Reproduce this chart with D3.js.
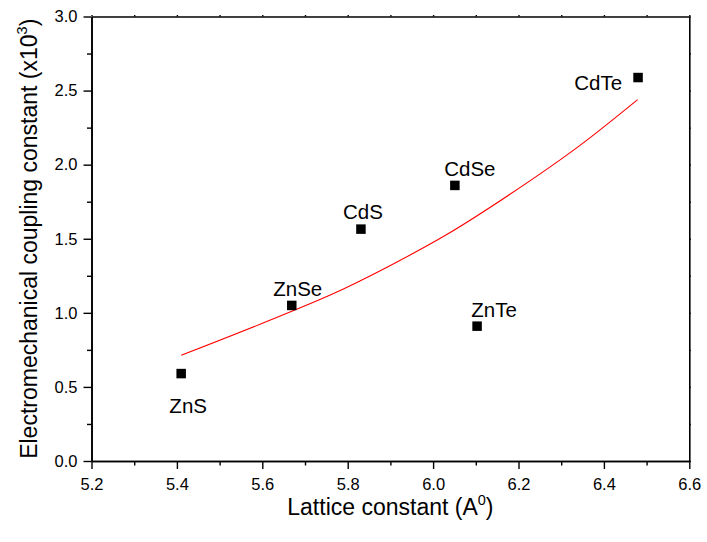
<!DOCTYPE html>
<html>
<head>
<meta charset="utf-8">
<script src="https://cdn.jsdelivr.net/npm/d3@7"></script>
<style>
  body { margin: 0; background: #fff; }
  svg { display: block; font-family: Arial, "Liberation Sans", sans-serif; }
</style>
</head>
<body>
<svg id="chart" width="707" height="542"></svg>
<script>
// measured compounds
const COMPOUNDS = ["ZnS", "ZnSe", "CdS", "CdSe", "ZnTe", "CdTe"]
const LATTICE = [5.41, 5.669, 5.831, 6.051, 6.103, 6.48]
const COUPLING = [0.59, 1.05, 1.565, 1.86, 0.91, 2.588]

// fitted trend line
const FIT_X = [5.41, 5.669, 5.759, 5.9, 6.033, 6.18, 6.344, 6.479]
const FIT_Y = [0.713, 1.01, 1.12, 1.32, 1.53, 1.80, 2.13, 2.439]

const X_TICKS = [5.2, 5.4, 5.6, 5.8, 6.0, 6.2, 6.4, 6.6]
const Y_TICKS = [0.0, 0.5, 1.0, 1.5, 2.0, 2.5, 3.0]

const LEFT = 91.5, RIGHT = 689.3, TOP = 16.5, BOTTOM = 461

const svg = d3.select("#chart")

const xScale = d3.scaleLinear().domain([5.2, 6.6]).range([LEFT, RIGHT])
const yScale = d3.scaleLinear().domain([0, 3]).range([BOTTOM, TOP])

const minorX = d3.range(5.3, 6.6, 0.2)
const minorY = d3.range(0.25, 3, 0.5)

function styleAxis(g) {
  g.select(".domain").attr("stroke", "#000").attr("stroke-width", 1.6)
  g.selectAll(".tick line").attr("stroke", "#000").attr("stroke-width", 1.4)
  g.selectAll(".tick text").attr("fill", "#000").attr("font-size", "16.5px")
}

// bottom axis, major + minor
svg.append("g")
  .attr("transform", `translate(0,${BOTTOM})`)
  .call(d3.axisBottom(xScale).tickValues(minorX).tickSize(4.5).tickSizeOuter(0).tickFormat(""))
  .call(styleAxis)
svg.append("g")
  .attr("transform", `translate(0,${BOTTOM})`)
  .call(d3.axisBottom(xScale).tickValues(X_TICKS).tickSize(8).tickSizeOuter(0).tickPadding(9).tickFormat(d3.format(".1f")))
  .call(styleAxis)

// left axis, major + minor
svg.append("g")
  .attr("transform", `translate(${LEFT},0)`)
  .call(d3.axisLeft(yScale).tickValues(minorY).tickSize(4.5).tickSizeOuter(0).tickFormat(""))
  .call(styleAxis)
svg.append("g")
  .attr("transform", `translate(${LEFT},0)`)
  .call(d3.axisLeft(yScale).tickValues(Y_TICKS).tickSize(8).tickSizeOuter(0).tickPadding(6).tickFormat(d3.format(".1f")))
  .call(styleAxis)

// top and right frame with tiny ticks
svg.append("g")
  .attr("transform", `translate(0,${TOP})`)
  .call(d3.axisTop(xScale).tickValues(X_TICKS.concat(minorX)).tickSize(1.5).tickSizeOuter(0).tickFormat(""))
  .call(styleAxis)
svg.append("g")
  .attr("transform", `translate(${RIGHT},0)`)
  .call(d3.axisRight(yScale).tickValues(Y_TICKS.concat(minorY)).tickSize(1.5).tickSizeOuter(0).tickFormat(""))
  .call(styleAxis)

// fit curve
const fitData = FIT_X.map((x, i) => ({x: x, y: FIT_Y[i]}))
svg.append("path")
  .datum(fitData)
  .attr("fill", "none")
  .attr("stroke", "#ff0000")
  .attr("stroke-width", 1.1)
  .attr("d", d3.line().x(d => xScale(d.x)).y(d => yScale(d.y)).curve(d3.curveMonotoneX))

// square markers
const points = COMPOUNDS.map((name, i) => ({name: name, x: LATTICE[i], y: COUPLING[i]}))
const SQ = 9.5
svg.append("g").selectAll("rect")
  .data(points)
  .join("rect")
  .attr("x", d => xScale(d.x) - SQ / 2)
  .attr("y", d => yScale(d.y) - SQ / 2)
  .attr("width", SQ)
  .attr("height", SQ)
  .attr("fill", "#000")

// point labels: offsets from marker centre
const LABEL_OFFSETS = {
  "ZnS":  {dx: 7,   dy: 39,  anchor: "middle"},
  "ZnSe": {dx: 6,   dy: -9,  anchor: "middle"},
  "CdS":  {dx: 2,   dy: -10, anchor: "middle"},
  "CdSe": {dx: 15,  dy: -9,  anchor: "middle"},
  "ZnTe": {dx: 17,  dy: -9,  anchor: "middle"},
  "CdTe": {dx: -16, dy: 12,  anchor: "end"}
}
svg.append("g").selectAll("text")
  .data(points)
  .join("text")
  .attr("x", d => xScale(d.x) + LABEL_OFFSETS[d.name].dx)
  .attr("y", d => yScale(d.y) + LABEL_OFFSETS[d.name].dy)
  .attr("text-anchor", d => LABEL_OFFSETS[d.name].anchor)
  .attr("font-size", "20.5px")
  .attr("fill", "#000")
  .text(d => d.name)

// axis titles
const xTitle = svg.append("text")
  .attr("x", (LEFT + RIGHT) / 2)
  .attr("y", 515)
  .attr("text-anchor", "middle")
  .attr("font-size", "23px")
xTitle.append("tspan").text("Lattice constant (A")
xTitle.append("tspan").attr("font-size", "14.5px").attr("dy", -10).text("0")
xTitle.append("tspan").attr("dy", 10).text(")")

const yTitle = svg.append("text")
  .attr("transform", `translate(37,${(TOP + BOTTOM) / 2}) rotate(-90)`)
  .attr("text-anchor", "middle")
  .attr("font-size", "23px")
yTitle.append("tspan").text("Electromechanical coupling constant (x10")
yTitle.append("tspan").attr("font-size", "14.5px").attr("dy", -10).text("3")
yTitle.append("tspan").attr("dy", 10).text(")")
</script>
</body>
</html>
